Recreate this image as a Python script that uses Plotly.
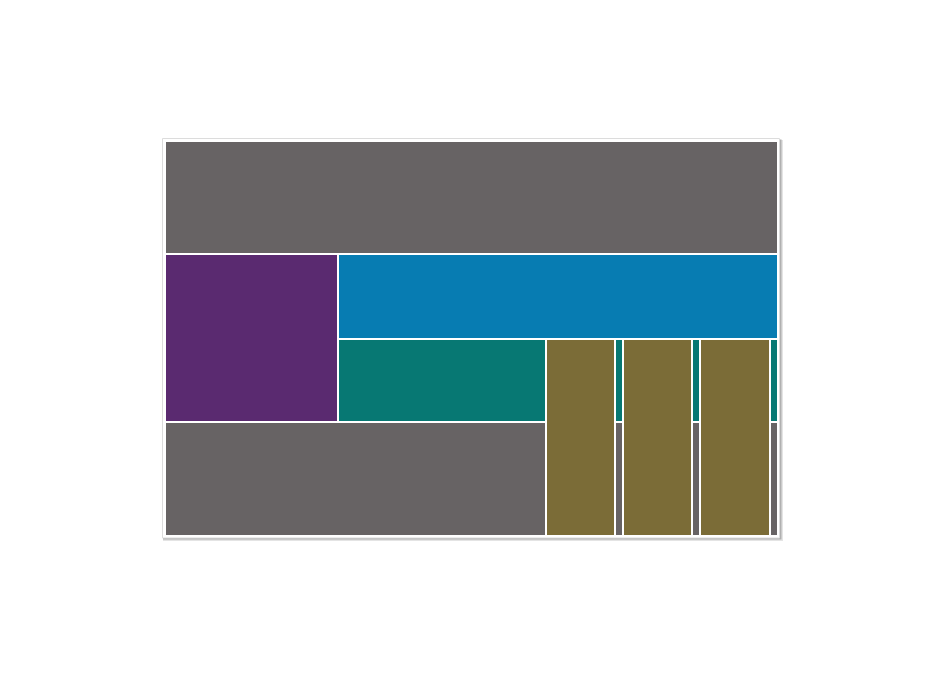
import plotly.graph_objects as go

# Rectangles (x0, x1, y0, y1) in layout units, drawn in order (later on top)
names = ["top", "bottom", "purple", "blue", "teal", "olive1", "olive2", "olive3"]
x0s = [0, 0, 0, 173, 173, 380.5, 457.5, 534.5]
x1s = [613, 613, 173, 613, 613, 449.5, 526.5, 604.5]
y0s = [0, 281, 113, 113, 197.5, 197.5, 197.5, 197.5]
y1s = [113, 395, 281, 197.5, 281, 395, 395, 395]
colors = ["#676364", "#676364", "#5A2A70", "#077CB2", "#077873",
          "#7B6C37", "#7B6C37", "#7B6C37"]

W, H = 944, 681
L, R, T, B = 165, 166, 141, 145
pw, ph = W - L - R, H - T - B

fig = go.Figure()
for n, a, b, c, d, col in zip(names, x0s, x1s, y0s, y1s, colors):
    fig.add_trace(go.Bar(
        x=[(a + b) / 2], width=[b - a], base=[c], y=[d - c],
        marker=dict(color=col, line=dict(color="white", width=2)),
        name=n, hoverinfo="skip", cliponaxis=False,
    ))

def px(xp):
    return (xp - L) / pw

def py(yp):
    return 1 - (yp - T) / ph

shapes = [
    dict(type="rect", xref="paper", yref="paper", layer="below",
         x0=px(163), x1=px(783), y0=py(140), y1=py(541),
         fillcolor="#e4e4e4", line=dict(width=0)),
    dict(type="rect", xref="paper", yref="paper", layer="below",
         x0=px(163), x1=px(781.5), y0=py(139.5), y1=py(539.5),
         fillcolor="#b0b0b0", line=dict(width=0)),
    dict(type="rect", xref="paper", yref="paper", layer="below",
         x0=px(162.5), x1=px(779.5), y0=py(138.5), y1=py(538),
         fillcolor="white", line=dict(color="#dcdcdc", width=1)),
]

fig.update_layout(
    width=W, height=H, autosize=False,
    margin=dict(l=L, r=R, t=T, b=B),
    barmode="overlay", bargap=0, showlegend=False,
    paper_bgcolor="white", plot_bgcolor="rgba(0,0,0,0)",
    shapes=shapes,
    xaxis=dict(range=[0, 613], visible=False, fixedrange=True),
    yaxis=dict(range=[395, 0], visible=False, fixedrange=True),
)
fig.write_html("out.html", config={"displayModeBar": False})
